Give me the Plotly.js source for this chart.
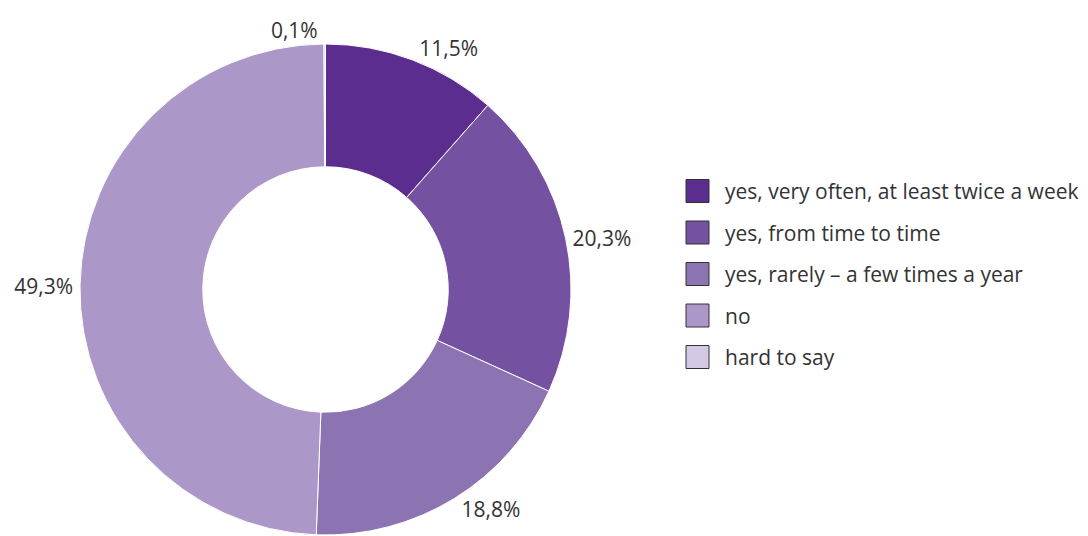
<!DOCTYPE html>
<html>
<head>
<meta charset="utf-8">
<script src="https://cdn.plot.ly/plotly-3.0.1.min.js"></script>
<style>html,body{margin:0;padding:0;background:#fff;}#chart{width:1088px;height:536px;}</style>
</head>
<body>
<div id="chart"></div>
<script>
const categories = [
  "yes, very often, at least twice a week",
  "yes, from time to time",
  "yes, rarely – a few times a year",
  "no",
  "hard to say"
];
const shares = [11.5, 20.3, 18.8, 49.3, 0.1];
const colors = ["#5b2d8e", "#7452a1", "#8c73b1", "#ab98c9", "#d3c9e4"];

const W = 1088, H = 536;
const cx = 325.5, cy = 289.5, R = 245.5;
const FONT = "Open Sans, Noto Sans, sans-serif";

const trace = {
  type: "pie",
  labels: categories,
  values: shares,
  sort: false,
  direction: "clockwise",
  rotation: 0,
  hole: 0.5,
  marker: { colors: colors, line: { color: "#ffffff", width: 1 } },
  texttemplate: "%{value:.1f}%",
  textposition: "outside",
  textfont: { family: FONT, size: 21, color: "#333333" },
  showlegend: false,
  hoverinfo: "label+value",
  domain: { x: [(cx - R) / W, (cx + R) / W], y: [(H - cy - R) / H, (H - cy + R) / H] }
};

// custom legend built from the category and colour arrays
const shapes = [], annotations = [];
const legX = 686, legY0 = 191, legGap = 41.5, sw = 23;
categories.forEach((c, i) => {
  const yc = legY0 + i * legGap;
  shapes.push({
    type: "rect", xref: "paper", yref: "paper",
    x0: legX / W, x1: (legX + sw) / W,
    y0: (H - yc - sw / 2) / H, y1: (H - yc + sw / 2) / H,
    fillcolor: colors[i], line: { color: "#333333", width: 1 }
  });
  annotations.push({
    xref: "paper", yref: "paper", x: 723 / W, y: (H - yc) / H,
    xanchor: "left", yanchor: "middle", showarrow: false, text: c,
    font: { family: FONT, size: 21, color: "#333333" }
  });
});

const layout = {
  width: W, height: H,
  margin: { l: 0, r: 0, t: 0, b: 0 },
  paper_bgcolor: "#ffffff",
  separators: ", ",
  showlegend: false,
  shapes: shapes,
  annotations: annotations,
  font: { family: FONT, color: "#333333" }
};

Plotly.newPlot("chart", [trace], layout, { displayModeBar: false, staticPlot: true });
</script>
</body>
</html>
